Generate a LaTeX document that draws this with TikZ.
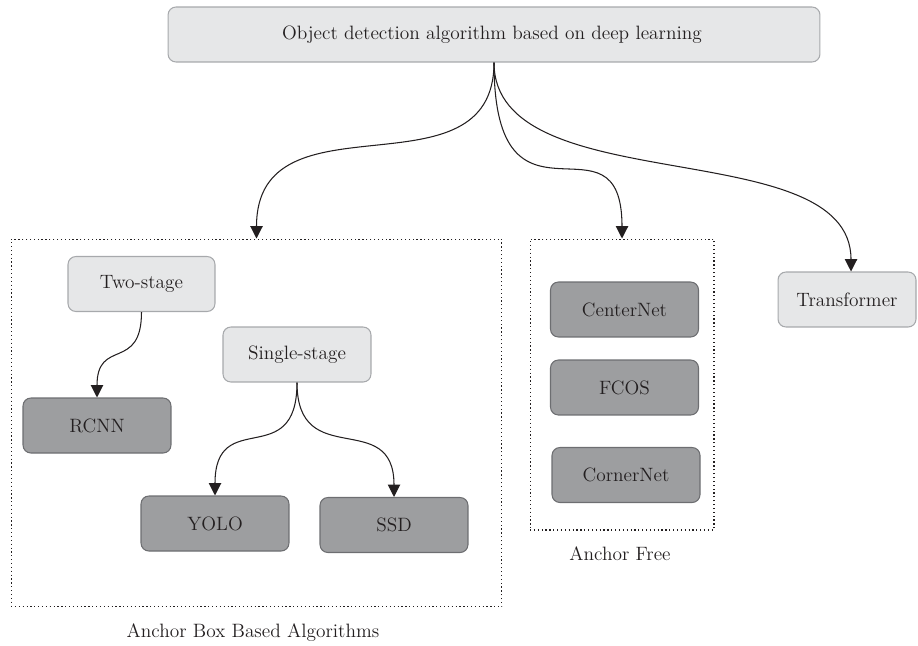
\documentclass[tikz,border=0pt]{standalone}
\usepackage{tikz}
\usepackage{xcolor}
\usetikzlibrary{arrows.meta,positioning}
\definecolor{ink}     {HTML}{231F20}
\definecolor{lightbg} {HTML}{E6E7E8}
\definecolor{lightln} {HTML}{A7A9AC}
\definecolor{darkbg}  {HTML}{9D9EA0}
\definecolor{darkln}  {HTML}{6D6E71}
\tikzset{
  box/.style      ={rounded corners=4.5pt, line width=0.6pt, text=ink,
                    minimum width=2.96cm, minimum height=1.1cm,
                    align=center, font=\fontsize{11}{13}\selectfont, inner sep=3pt},
  lbox/.style     ={box, draw=lightln, fill=lightbg},
  dbox/.style     ={box, draw=darkln, fill=darkbg},
  group/.style    ={draw=ink, line width=0.6pt,
                    dash pattern=on 0.7pt off 1.5pt, inner sep=0pt},
  grouplbl/.style ={font=\fontsize{11}{13}\selectfont, text=ink},
  arr/.style      ={-{Triangle[length=7pt,width=7pt]}, line width=0.6pt,
                    color=ink},
}
\begin{document}
\begin{tikzpicture}[x=0.02cm,y=-0.02cm]
  \useasboundingbox (0,0) rectangle (918,645);

  \node[lbox,minimum width=13.04cm] (top) at (494,34.5) {};
  \node[grouplbl] (toplbl) at (492,34.5)
    {Object detection algorithm based on deep learning};

  % groups
  \node[group,minimum width=9.82cm,minimum height=7.36cm] (abbox) at (256.5,423) {};
  \node[group,minimum width=3.68cm,minimum height=5.82cm] (afbox) at (622,384.5) {};
  \node[grouplbl] (ablbl) at (253,633) {Anchor Box Based Algorithms};
  \node[grouplbl] (aflbl) at (620,554) {Anchor Free};

  \node[lbox,minimum width=2.94cm] (two) at (141.5,284) {Two-stage};
  \node[dbox] (rcnn) at (97,425.5) {RCNN};
  \node[lbox] (single) at (297,354.5) {Single-stage};
  \node[dbox] (yolo) at (215,523.5) {YOLO};
  \node[dbox] (ssd) at (394,525) {SSD};

  \node[dbox] (center) at (624.5,309.5) {CenterNet};
  \node[dbox] (fcos) at (624.5,387.5) {FCOS};
  \node[dbox] (corner) at (626,475) {CornerNet};

  \node[lbox,minimum width=2.76cm] (trans) at (847,299.5) {Transformer};

  \draw[arr] (top.south) .. controls +(0,140) and +(0,-150) .. (abbox.north);
  \draw[arr] (top.south) .. controls +(0,188) and +(0,-136) .. (afbox.north);
  \draw[arr] (top.south) .. controls +(0,140) and +(0,-140) .. ([xshift=4*0.02cm]trans.north);

  \draw[arr] (two.south) .. controls +(0,60) and +(0,-60) .. (rcnn.north);
  \draw[arr] (single.south) .. controls +(0,90) and +(0,-90) .. (yolo.north);
  \draw[arr] (single.south) .. controls +(0,90) and +(0,-90) .. (ssd.north);
\end{tikzpicture}
\end{document}
